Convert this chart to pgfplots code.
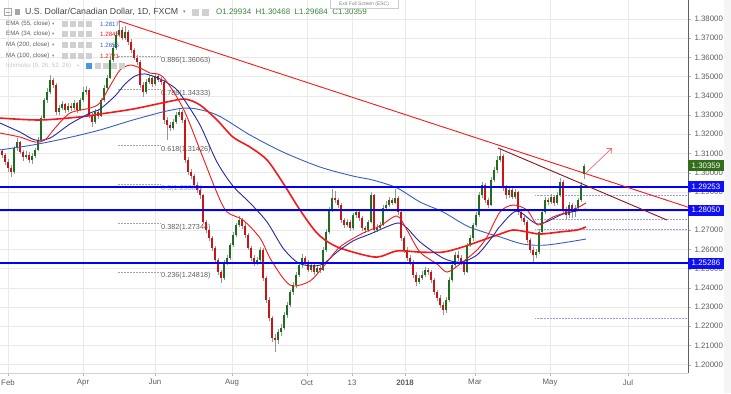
\documentclass[border=0pt]{standalone}
\usepackage{pgfplots}
\pgfplotsset{compat=1.18}
\usepackage{pgfplotstable}
\usetikzlibrary{arrows.meta}
\usepackage{fontspec}
\setmainfont{Liberation Sans}
\newfontfamily\sym{DejaVu Sans}
\definecolor{upc}{RGB}{30,110,30}
\definecolor{dnc}{RGB}{205,20,20}
\definecolor{wick}{RGB}{150,150,150}
\definecolor{hblue}{RGB}{0,0,250}
\definecolor{navy}{RGB}{40,40,165}
\definecolor{steel}{RGB}{55,95,195}
\definecolor{mared}{RGB}{245,25,25}
\definecolor{maroon}{RGB}{140,20,25}
\definecolor{arrowc}{RGB}{240,110,110}
\definecolor{gridc}{RGB}{233,233,233}
\definecolor{txt}{RGB}{95,95,95}
\definecolor{titlec}{RGB}{70,70,70}
\definecolor{ohlc}{RGB}{60,135,60}
\definecolor{fibb}{RGB}{150,160,245}
\definecolor{greenbox}{RGB}{50,110,25}
\definecolor{bluebox}{RGB}{15,15,245}
\definecolor{icon}{RGB}{208,208,208}
\definecolor{iconblue}{RGB}{70,150,225}

\pgfplotstableread{
x o h l c
2 1.3110 1.3125 1.3075 1.3092
5 1.3092 1.3100 1.3040 1.3055
8 1.3055 1.3070 1.3005 1.3024
11 1.3024 1.3040 1.2975 1.3003
14 1.3003 1.3140 1.2995 1.3128
17 1.3128 1.3180 1.3115 1.3159
20 1.3159 1.3165 1.3095 1.3107
23 1.3107 1.3120 1.3060 1.3081
26 1.3081 1.3110 1.3070 1.3092
29 1.3092 1.3105 1.3050 1.3066
32 1.3066 1.3100 1.3045 1.3086
35 1.3086 1.3130 1.3075 1.3118
38 1.3118 1.3185 1.3110 1.3170
41 1.3170 1.3295 1.3160 1.3284
44 1.3284 1.3390 1.3275 1.3378
47 1.3378 1.3440 1.3365 1.3420
50 1.3420 1.3510 1.3410 1.3482
53 1.3482 1.3495 1.3440 1.3456
56 1.3456 1.3465 1.3300 1.3316
59 1.3316 1.3350 1.3300 1.3336
62 1.3336 1.3375 1.3325 1.3357
65 1.3357 1.3365 1.3310 1.3326
68 1.3326 1.3360 1.3315 1.3347
71 1.3347 1.3365 1.3320 1.3336
74 1.3336 1.3380 1.3325 1.3363
77 1.3363 1.3370 1.3310 1.3326
80 1.3326 1.3390 1.3320 1.3378
83 1.3378 1.3445 1.3370 1.3420
86 1.3420 1.3450 1.3405 1.3430
89 1.3430 1.3440 1.3285 1.3300
92 1.3300 1.3310 1.3240 1.3264
95 1.3264 1.3330 1.3255 1.3316
98 1.3316 1.3325 1.3280 1.3295
101 1.3295 1.3390 1.3290 1.3378
104 1.3378 1.3455 1.3370 1.3441
107 1.3441 1.3510 1.3430 1.3493
110 1.3493 1.3600 1.3485 1.3586
113 1.3586 1.3670 1.3575 1.3649
116 1.3649 1.3735 1.3640 1.3717
119 1.3717 1.3790 1.3705 1.3743
122 1.3743 1.3760 1.3690 1.3701
125 1.3701 1.3765 1.3690 1.3732
128 1.3732 1.3745 1.3665 1.3680
131 1.3680 1.3695 1.3625 1.3639
134 1.3639 1.3650 1.3585 1.3597
137 1.3597 1.3610 1.3560 1.3576
140 1.3576 1.3585 1.3440 1.3456
143 1.3456 1.3470 1.3395 1.3420
146 1.3420 1.3485 1.3410 1.3472
149 1.3472 1.3510 1.3460 1.3493
152 1.3493 1.3505 1.3445 1.3461
155 1.3461 1.3520 1.3450 1.3503
158 1.3503 1.3515 1.3470 1.3482
161 1.3482 1.3500 1.3455 1.3472
164 1.3472 1.3480 1.3255 1.3274
167 1.3274 1.3290 1.3170 1.3248
170 1.3248 1.3265 1.3215 1.3232
173 1.3232 1.3280 1.3220 1.3264
176 1.3264 1.3315 1.3255 1.3300
179 1.3300 1.3335 1.3290 1.3316
182 1.3316 1.3325 1.3260 1.3274
185 1.3274 1.3285 1.3050 1.3066
188 1.3066 1.3080 1.2990 1.3003
191 1.3003 1.3020 1.2965 1.2982
194 1.2982 1.2995 1.2920 1.2935
197 1.2935 1.2950 1.2895 1.2909
200 1.2909 1.2925 1.2865 1.2883
203 1.2883 1.2890 1.2730 1.2743
206 1.2743 1.2755 1.2685 1.2701
209 1.2701 1.2715 1.2645 1.2659
212 1.2659 1.2670 1.2590 1.2607
215 1.2607 1.2620 1.2530 1.2545
218 1.2545 1.2555 1.2465 1.2482
221 1.2482 1.2495 1.2425 1.2451
224 1.2451 1.2545 1.2440 1.2534
227 1.2534 1.2570 1.2520 1.2555
230 1.2555 1.2635 1.2545 1.2623
233 1.2623 1.2690 1.2610 1.2675
236 1.2675 1.2740 1.2665 1.2727
239 1.2727 1.2775 1.2715 1.2753
242 1.2753 1.2765 1.2705 1.2722
245 1.2722 1.2735 1.2660 1.2675
248 1.2675 1.2685 1.2595 1.2607
251 1.2607 1.2620 1.2540 1.2555
254 1.2555 1.2570 1.2515 1.2534
257 1.2534 1.2560 1.2520 1.2545
260 1.2545 1.2610 1.2530 1.2597
263 1.2597 1.2605 1.2435 1.2451
266 1.2451 1.2460 1.2320 1.2336
269 1.2336 1.2350 1.2225 1.2243
272 1.2243 1.2255 1.2120 1.2139
275 1.2139 1.2160 1.2068 1.2128
278 1.2128 1.2185 1.2105 1.2170
281 1.2170 1.2210 1.2150 1.2191
284 1.2191 1.2275 1.2180 1.2258
287 1.2258 1.2325 1.2245 1.2310
290 1.2310 1.2390 1.2300 1.2378
293 1.2378 1.2430 1.2365 1.2415
296 1.2415 1.2480 1.2400 1.2467
299 1.2467 1.2535 1.2455 1.2519
302 1.2519 1.2575 1.2505 1.2555
305 1.2555 1.2565 1.2520 1.2534
308 1.2534 1.2545 1.2480 1.2493
311 1.2493 1.2535 1.2480 1.2519
314 1.2519 1.2530 1.2465 1.2482
317 1.2482 1.2515 1.2470 1.2503
320 1.2503 1.2515 1.2475 1.2493
323 1.2493 1.2610 1.2485 1.2597
326 1.2597 1.2705 1.2585 1.2691
329 1.2691 1.2820 1.2680 1.2805
332 1.2805 1.2915 1.2795 1.2868
335 1.2868 1.2905 1.2840 1.2857
338 1.2857 1.2870 1.2815 1.2831
341 1.2831 1.2840 1.2740 1.2753
344 1.2753 1.2765 1.2710 1.2727
347 1.2727 1.2760 1.2715 1.2743
350 1.2743 1.2755 1.2695 1.2711
353 1.2711 1.2790 1.2700 1.2779
356 1.2779 1.2810 1.2765 1.2795
359 1.2795 1.2805 1.2750 1.2764
362 1.2764 1.2775 1.2695 1.2711
365 1.2711 1.2720 1.2685 1.2701
368 1.2701 1.2755 1.2690 1.2743
371 1.2743 1.2900 1.2735 1.2883
374 1.2883 1.2890 1.2685 1.2701
377 1.2701 1.2730 1.2690 1.2711
380 1.2711 1.2745 1.2705 1.2727
383 1.2727 1.2830 1.2720 1.2816
386 1.2816 1.2850 1.2805 1.2831
389 1.2831 1.2875 1.2820 1.2857
392 1.2857 1.2870 1.2830 1.2842
395 1.2842 1.2915 1.2835 1.2868
398 1.2868 1.2880 1.2780 1.2795
401 1.2795 1.2805 1.2645 1.2659
404 1.2659 1.2670 1.2580 1.2597
407 1.2597 1.2610 1.2540 1.2555
410 1.2555 1.2570 1.2520 1.2534
413 1.2534 1.2545 1.2450 1.2467
416 1.2467 1.2480 1.2410 1.2430
419 1.2430 1.2465 1.2420 1.2451
422 1.2451 1.2485 1.2440 1.2467
425 1.2467 1.2510 1.2455 1.2493
428 1.2493 1.2505 1.2465 1.2482
431 1.2482 1.2495 1.2425 1.2441
434 1.2441 1.2450 1.2360 1.2378
437 1.2378 1.2390 1.2330 1.2347
440 1.2347 1.2360 1.2295 1.2310
443 1.2310 1.2325 1.2258 1.2284
446 1.2284 1.2350 1.2270 1.2336
449 1.2336 1.2455 1.2325 1.2441
452 1.2441 1.2530 1.2430 1.2519
455 1.2519 1.2585 1.2505 1.2571
458 1.2571 1.2590 1.2540 1.2555
461 1.2555 1.2570 1.2520 1.2534
464 1.2534 1.2545 1.2465 1.2482
467 1.2482 1.2635 1.2475 1.2623
470 1.2623 1.2675 1.2610 1.2659
473 1.2659 1.2740 1.2645 1.2727
476 1.2727 1.2795 1.2715 1.2779
479 1.2779 1.2900 1.2770 1.2883
482 1.2883 1.2950 1.2870 1.2935
485 1.2935 1.2945 1.2840 1.2857
488 1.2857 1.2870 1.2815 1.2831
491 1.2831 1.2975 1.2825 1.2961
494 1.2961 1.3030 1.2950 1.3014
497 1.3014 1.3085 1.3000 1.3066
500 1.3066 1.3125 1.3055 1.3086
503 1.3086 1.3095 1.2905 1.2920
506 1.2920 1.2935 1.2865 1.2883
509 1.2883 1.2925 1.2870 1.2909
512 1.2909 1.2920 1.2860 1.2873
515 1.2873 1.2915 1.2860 1.2899
518 1.2899 1.2905 1.2780 1.2795
521 1.2795 1.2810 1.2750 1.2764
524 1.2764 1.2775 1.2725 1.2743
527 1.2743 1.2755 1.2635 1.2649
530 1.2649 1.2660 1.2580 1.2597
533 1.2597 1.2610 1.2530 1.2571
536 1.2571 1.2600 1.2555 1.2586
539 1.2586 1.2705 1.2575 1.2691
542 1.2691 1.2810 1.2680 1.2795
545 1.2795 1.2875 1.2785 1.2857
548 1.2857 1.2870 1.2830 1.2847
551 1.2847 1.2890 1.2835 1.2873
554 1.2873 1.2880 1.2825 1.2842
557 1.2842 1.2900 1.2830 1.2883
560 1.2883 1.2970 1.2875 1.2951
563 1.2951 1.2960 1.2790 1.2805
566 1.2805 1.2820 1.2760 1.2779
569 1.2779 1.2845 1.2765 1.2831
572 1.2831 1.2840 1.2765 1.2795
575 1.2795 1.2830 1.2770 1.2816
578 1.2816 1.2870 1.2805 1.2857
581 1.2857 1.2950 1.2845 1.2935
584 1.29934 1.30468 1.29684 1.30359
}\candles

\newcommand{\legfont}{\fontsize{6.2}{7}\selectfont}
\newcommand{\fibfont}{\fontsize{7.3}{8}\selectfont}
\newcommand{\icons}[1]{\foreach \ix in {0,1,2,3}{\fill[icon] (62+8*\ix,#1-3) rectangle (68+8*\ix,#1+3);}}

\begin{document}
\begin{tikzpicture}[x=1bp,y=1bp]
\useasboundingbox (0,-20) rectangle (731,373);
\fill[white] (0,-20) rectangle (731,373);
\fill[gray!8] (724,-20) rectangle (731,373);

\begin{axis}[
  width=688bp, height=373bp, scale only axis,
  xmin=0, xmax=688, ymin=1.195625, ymax=1.389896,
  axis x line*=bottom, axis y line*=right,
  x axis line style={draw=gray!35},
  y axis line style={draw=gray!75!black},
  tick align=outside, major tick length=3bp,
  tick style={draw=gray!60},
  xtick={8,83,155,232,307,352,405,475,550,628},
  xticklabels={Feb,Apr,Jun,Aug,Oct,13,\textbf{2018},Mar,May,Jul},
  ytick={1.20,1.21,1.22,1.23,1.24,1.25,1.26,1.27,1.28,1.29,1.30,1.31,1.32,1.33,1.34,1.35,1.36,1.37,1.38},
  yticklabels={1.20000,1.21000,1.22000,1.23000,1.24000,1.25000,1.26000,1.27000,1.28000,1.29000,1.30000,1.31000,1.32000,1.33000,1.34000,1.35000,1.36000,1.37000,1.38000},
  ticklabel style={font=\fontsize{7.9}{8.5}\selectfont, text=txt},
  grid=major, major grid style={draw=gridc, line width=0.5bp},
  clip mode=individual,
]
% Fibonacci levels (left tool)
\addplot[gray!70, densely dotted, line width=0.5bp] coordinates {(118,1.36063) (160,1.36063)};
\addplot[gray!70, densely dotted, line width=0.5bp] coordinates {(118,1.34333) (160,1.34333)};
\addplot[gray!70, densely dotted, line width=0.5bp] coordinates {(118,1.31426) (160,1.31426)};
\addplot[fibb, densely dotted, line width=0.5bp] coordinates {(118,1.29384) (160,1.29384)};
\addplot[gray!70, densely dotted, line width=0.5bp] coordinates {(118,1.27344) (160,1.27344)};
\addplot[gray!70, densely dotted, line width=0.5bp] coordinates {(118,1.24818) (160,1.24818)};
\node[anchor=west, inner sep=0, font=\fibfont, text=txt] at (axis cs:161,1.35813) {0.886(1.36063)};
\node[anchor=west, inner sep=0, font=\fibfont, text=txt] at (axis cs:161,1.34094) {0.786(1.34333)};
\node[anchor=west, inner sep=0, font=\fibfont, text=txt] at (axis cs:161,1.31177) {0.618(1.31426)};
\node[anchor=west, inner sep=0, font=\fibfont, text=fibb] at (axis cs:161,1.29146) {0.5(1.29384)};
\node[anchor=west, inner sep=0, font=\fibfont, text=txt] at (axis cs:161,1.27115) {0.382(1.27344)};
\node[anchor=west, inner sep=0, font=\fibfont, text=txt] at (axis cs:161,1.24615) {0.236(1.24818)};
% right fib tool
\addplot[fibb, densely dotted, line width=0.5bp] coordinates {(535,1.2883) (688,1.2883)};
\addplot[fibb, densely dotted, line width=0.5bp] coordinates {(535,1.2810) (688,1.2810)};
\addplot[fibb, densely dotted, line width=0.5bp] coordinates {(535,1.2758) (688,1.2758)};
\addplot[fibb, densely dotted, line width=0.5bp] coordinates {(535,1.2706) (688,1.2706)};
\addplot[fibb, densely dotted, line width=0.5bp] coordinates {(535,1.2243) (688,1.2243)};

% candles
\addplot[draw=wick, line width=0.5bp, quiver={u=0, v=\thisrow{h}-\thisrow{l}}] table[x=x, y=l] {\candles};
\addplot[draw=upc, line width=1.7bp, quiver={u=0, v=\thisrow{c}-\thisrow{o}},
  restrict expr to domain={\thisrow{c}-\thisrow{o}}{0:1}] table[x=x, y=o] {\candles};
\addplot[draw=dnc, line width=1.7bp, quiver={u=0, v=\thisrow{c}-\thisrow{o}},
  restrict expr to domain={\thisrow{c}-\thisrow{o}}{-1:0}] table[x=x, y=o] {\candles};

% MA 200
\addplot[steel, line width=0.9bp, smooth] coordinates {
(0,1.3118) (33,1.3144) (67,1.3180) (100,1.3222) (133,1.3274) (167,1.3321) (190,1.3336) (217,1.3300) (250,1.3196) (283,1.3107) (320,1.3029) (353,1.2982) (373,1.2961) (397,1.2920) (420,1.2847) (443,1.2795) (467,1.2722) (487,1.2685) (500,1.2665) (523,1.2628) (547,1.2623) (586,1.2654)};
% MA 100
\addplot[mared, line width=1.6bp, smooth] coordinates {
(0,1.3284) (40,1.3274) (80,1.3290) (100,1.3305) (133,1.3331) (167,1.3368) (185,1.3383) (200,1.3352) (217,1.3274) (233,1.3185) (250,1.3133) (267,1.3066) (283,1.2946) (300,1.2805) (317,1.2685) (333,1.2623) (353,1.2586) (377,1.2560) (397,1.2592) (420,1.2586) (443,1.2586) (463,1.2613) (483,1.2649) (500,1.2680) (513,1.2701) (527,1.2691) (540,1.2680) (560,1.2691) (577,1.2701) (586,1.2717)};
% EMA 55
\addplot[navy, line width=0.9bp, smooth] coordinates {
(0,1.3258) (20,1.3211) (35,1.3170) (50,1.3180) (70,1.3253) (90,1.3310) (100,1.3331) (115,1.3399) (125,1.3461) (135,1.3503) (145,1.3514) (160,1.3488) (175,1.3441) (183,1.3389) (200,1.3248) (217,1.3055) (233,1.2930) (250,1.2842) (267,1.2743) (283,1.2607) (297,1.2534) (310,1.2514) (323,1.2524) (337,1.2586) (353,1.2644) (370,1.2680) (397,1.2737) (407,1.2711) (420,1.2639) (443,1.2555) (460,1.2534) (477,1.2571) (493,1.2670) (500,1.2720) (517,1.2800) (538,1.2732) (563,1.2784) (586,1.2810)};
% EMA 34
\addplot[mared, line width=0.9bp, smooth] coordinates {
(0,1.3206) (20,1.3185) (35,1.3159) (45,1.3170) (55,1.3232) (70,1.3310) (90,1.3336) (100,1.3363) (110,1.3451) (120,1.3534) (130,1.3560) (140,1.3545) (150,1.3519) (163,1.3498) (183,1.3336) (200,1.3118) (217,1.2894) (227,1.2795) (243,1.2753) (260,1.2659) (270,1.2555) (283,1.2451) (293,1.2409) (310,1.2435) (323,1.2508) (340,1.2613) (363,1.2685) (380,1.2722) (397,1.2774) (407,1.2701) (420,1.2586) (437,1.2524) (447,1.2482) (460,1.2524) (477,1.2597) (487,1.2665) (500,1.2795) (513,1.2831) (527,1.2805) (538,1.2727) (553,1.2769) (573,1.2805) (586,1.2842)};

% horizontal levels
\addplot[draw=hblue, line width=1.4bp] coordinates {(0,1.29253) (688,1.29253)};
\addplot[draw=hblue, line width=1.4bp] coordinates {(0,1.28050) (688,1.28050)};
\addplot[draw=hblue, line width=1.4bp] coordinates {(0,1.25286) (688,1.25286)};

% trend lines
\addplot[mared, line width=0.9bp] coordinates {(119,1.3790) (688,1.2820)};
\addplot[maroon, line width=0.9bp] coordinates {(498,1.3128) (667,1.2753)};
\addplot[arrowc, line width=0.7bp, -{Straight Barb[length=4bp,width=7bp]}] coordinates {(586,1.2998) (612,1.3128)};

% price boxes on the right scale
\node[fill=greenbox, text=white, anchor=west, inner xsep=3.5bp, inner ysep=0pt, minimum height=11bp, font=\fontsize{7.9}{8.5}\selectfont] at (axis cs:688,1.30359) {1.30359};
\node[fill=bluebox, text=white, anchor=west, inner xsep=3.5bp, inner ysep=0pt, minimum height=11bp, font=\fontsize{7.9}{8.5}\selectfont] at (axis cs:688,1.29253) {1.29253};
\node[fill=bluebox, text=white, anchor=west, inner xsep=3.5bp, inner ysep=0pt, minimum height=11bp, font=\fontsize{7.9}{8.5}\selectfont] at (axis cs:688,1.28050) {1.28050};
\node[fill=bluebox, text=white, anchor=west, inner xsep=3.5bp, inner ysep=0pt, minimum height=11bp, font=\fontsize{7.9}{8.5}\selectfont] at (axis cs:688,1.25286) {1.25286};
\end{axis}

% header
\draw[gray!70, line width=0.5bp] (4,357.5) rectangle (11,364.5);
\draw[gray!70, line width=0.6bp] (5.5,361) -- (9.5,361);
\fill[gray!70] (15,358) rectangle (20,364);
\node[anchor=west, inner sep=0, font=\fontsize{8.8}{9.5}\selectfont, text=titlec] at (25,361) {U.S. Dollar/Canadian Dollar, 1D, FXCM};
\node[anchor=west, inner sep=0, font=\sym\fontsize{5}{6}\selectfont, text=gray] at (183,361) {▾};
\fill[icon] (192,357.5) rectangle (199,364.5);
\fill[icon] (202,357.5) rectangle (209,364.5);
\node[anchor=west, inner sep=0, font=\fontsize{8}{9}\selectfont, text=ohlc] at (216,361) {O1.29934 \ H1.30468 \ L1.29684 \ C1.30359};
\draw[gray!40, fill=white] (330,365) rectangle (398,374);
\node[inner sep=0, font=\fontsize{5}{6}\selectfont, text=gray] at (364,369) {Exit Full Screen (ESC)};

% indicator legend
\node[anchor=west, inner sep=0, font=\legfont, text=txt] at (6,349) {EMA (55, close)};
\node[anchor=west, inner sep=0, font=\sym\fontsize{4.5}{5}\selectfont, text=gray] at (52,349) {▾};
\icons{349}
\node[anchor=west, inner sep=0, font=\legfont, text=steel] at (100,349) {1.2817};
\node[anchor=west, inner sep=0, font=\legfont, text=txt] at (6,339) {EMA (34, close)};
\node[anchor=west, inner sep=0, font=\sym\fontsize{4.5}{5}\selectfont, text=gray] at (52,339) {▾};
\icons{339}
\node[anchor=west, inner sep=0, font=\legfont, text=mared] at (100,339) {1.2846};
\node[anchor=west, inner sep=0, font=\legfont, text=txt] at (6,328) {MA (200, close)};
\node[anchor=west, inner sep=0, font=\sym\fontsize{4.5}{5}\selectfont, text=gray] at (52,328) {▾};
\icons{328}
\node[anchor=west, inner sep=0, font=\legfont, text=steel] at (100,328) {1.2655};
\node[anchor=west, inner sep=0, font=\legfont, text=txt] at (6,317) {MA (100, close)};
\node[anchor=west, inner sep=0, font=\sym\fontsize{4.5}{5}\selectfont, text=gray] at (52,317) {▾};
\icons{317}
\node[anchor=west, inner sep=0, font=\legfont, text=mared] at (100,317) {1.2721};
\node[anchor=west, inner sep=0, font=\legfont, text=gray!45] at (6,307) {Ichimoku (9, 26, 52, 26)};
\node[anchor=west, inner sep=0, font=\sym\fontsize{4.5}{5}\selectfont, text=gray!45] at (77,307) {▾};
\fill[iconblue] (86,304) rectangle (92,310);
\foreach \ix in {0,1,2,3}{\fill[icon] (95+8*\ix,304) rectangle (101+8*\ix,310);}
\end{tikzpicture}
\end{document}
